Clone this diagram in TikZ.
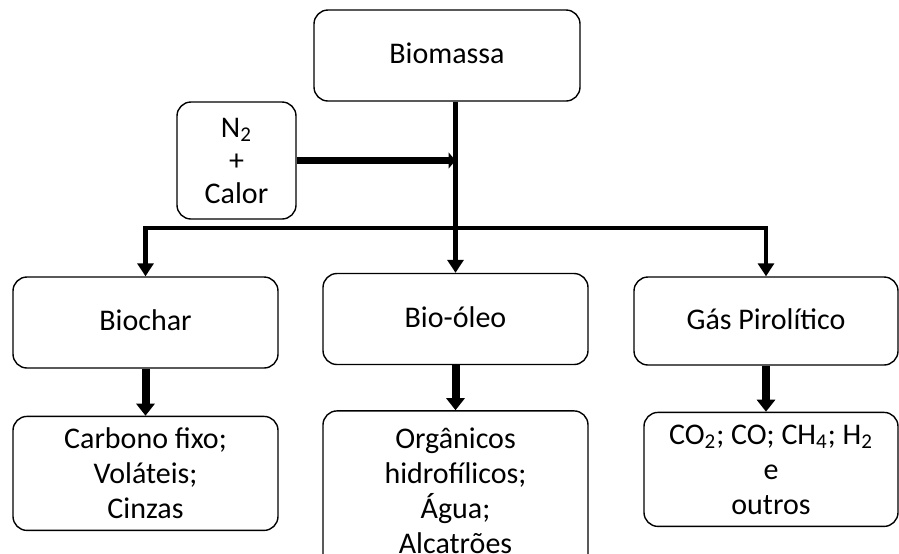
\documentclass[tikz,border=0pt]{standalone}
\usepackage{fontspec}
\setmainfont{Carlito}
\usetikzlibrary{arrows.meta,positioning}
\tikzset{
  box/.style={draw, rounded corners=7pt, line width=0.7pt, align=center, minimum width=132.5pt, minimum height=45.5pt, font=\fontsize{15}{17.5}\selectfont},
  onebox/.style={box, align=none, text height=2.2ex, text depth=0.5ex},
  subbox/.style={box, minimum height=57pt},
  line/.style={line width=2.4pt, -{Triangle[width=8pt,length=6.5pt]}},
  fatline/.style={line width=4pt, -{Triangle[width=9pt,length=6pt]}}
}
\begin{document}
\begin{tikzpicture}[x=0.5pt, y=-0.5pt, node distance=23pt]
  \clip (0,0) rectangle (899,553);
  \node[onebox, minimum width=133pt] (biomassa) at (447,55.5) {Biomassa};
  \node[box, minimum width=59.5pt, minimum height=58.5pt, font=\fontsize{15}{16.5}\selectfont] (calor) at (236.5,160.5) {N\textsubscript{2}\\+\\Calor};
  \node[onebox] (biochar) at (145.5,322.5) {Biochar};
  \node[onebox] (bioleo) at (455.5,319) {Bio-óleo};
  \node[onebox, minimum width=132pt, minimum height=44pt] (gas) at (766,321) {Gás Pirolítico};
  \node[subbox, below=23.5pt of biochar] (fixo) {Carbono fixo;\\Voláteis;\\Cinzas};
  \node[subbox, minimum height=79.5pt, below=22.5pt of bioleo] (organicos) {Orgânicos\\hidrofílicos;\\Água;\\Alcatrões};
  \node[subbox, minimum width=127pt, below=23pt of gas, xshift=2.5pt] (gases) {CO\textsubscript{2}; CO; CH\textsubscript{4}; H\textsubscript{2}\\e\\outros};
  \coordinate (split) at (455.5,228);
  \draw[line] (bioleo.north |- biomassa.south) -- (bioleo.north);
  \draw[fatline, line width=3.6pt, -{Triangle[width=8pt,length=3.5pt]}] (calor.east) -- (calor.east -| bioleo.north);
  \draw[line] (split) -| (biochar.north);
  \draw[line] (split) -| (gas.north);
  \draw[fatline] (biochar.south -| fixo.north) -- (fixo.north);
  \draw[fatline] (bioleo.south) -- (organicos.north);
  \draw[fatline] (gas.south) -- (gas.south |- gases.north);
\end{tikzpicture}
\end{document}
